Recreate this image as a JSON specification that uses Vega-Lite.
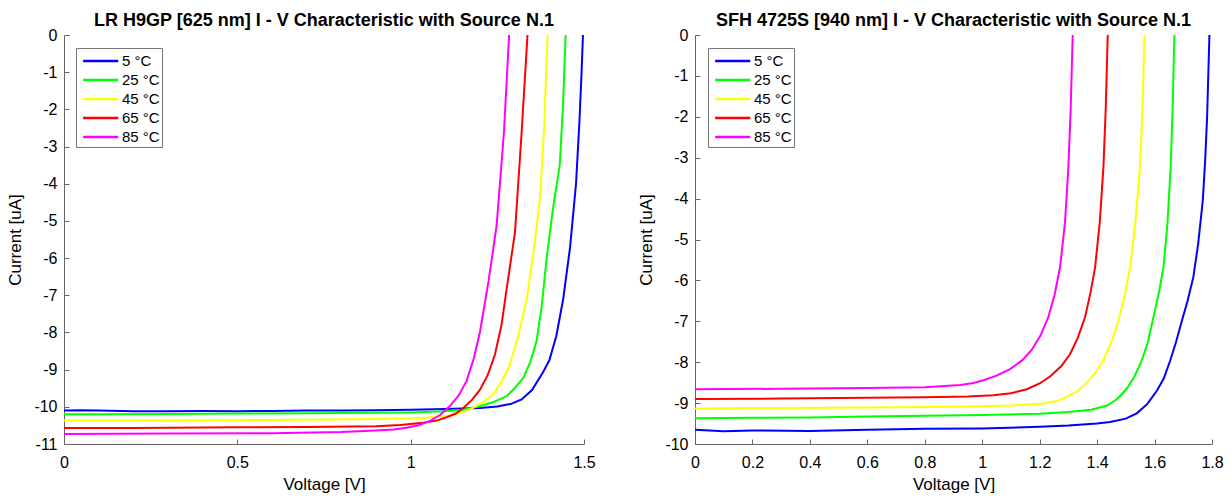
{
  "$schema": "https://vega.github.io/schema/vega-lite/v6.json",
  "padding": {"left": 6, "top": 12, "right": 5, "bottom": 3},
  "background": "white",
  "bounds": "flush",
  "spacing": 111,
  "resolve": {"scale": {"color": "independent"}, "legend": {"color": "independent"}},
  "datasets": {
    "L": [
      {"T": "5 °C", "V": 0, "I": -10.1}, {"T": "5 °C", "V": 0.05, "I": -10.09}, {"T": "5 °C", "V": 0.1, "I": -10.1}, {"T": "5 °C", "V": 0.2, "I": -10.12}, {"T": "5 °C", "V": 0.3, "I": -10.12}, {"T": "5 °C", "V": 0.4, "I": -10.11}, {"T": "5 °C", "V": 0.5, "I": -10.12}, {"T": "5 °C", "V": 0.6, "I": -10.11}, {"T": "5 °C", "V": 0.7, "I": -10.1}, {"T": "5 °C", "V": 0.8, "I": -10.1}, {"T": "5 °C", "V": 0.9, "I": -10.09}, {"T": "5 °C", "V": 1.0, "I": -10.08}, {"T": "5 °C", "V": 1.1, "I": -10.06}, {"T": "5 °C", "V": 1.2, "I": -10.03}, {"T": "5 °C", "V": 1.25, "I": -9.99}, {"T": "5 °C", "V": 1.29, "I": -9.92}, {"T": "5 °C", "V": 1.32, "I": -9.8}, {"T": "5 °C", "V": 1.35, "I": -9.55}, {"T": "5 °C", "V": 1.38, "I": -9.1}, {"T": "5 °C", "V": 1.4, "I": -8.75}, {"T": "5 °C", "V": 1.42, "I": -8.1}, {"T": "5 °C", "V": 1.44, "I": -7.1}, {"T": "5 °C", "V": 1.46, "I": -5.7}, {"T": "5 °C", "V": 1.477, "I": -4.0}, {"T": "5 °C", "V": 1.487, "I": -2.3}, {"T": "5 °C", "V": 1.493, "I": -1.0}, {"T": "5 °C", "V": 1.497, "I": 0},
      {"T": "25 °C", "V": 0, "I": -10.2}, {"T": "25 °C", "V": 0.1, "I": -10.2}, {"T": "25 °C", "V": 0.3, "I": -10.19}, {"T": "25 °C", "V": 0.5, "I": -10.18}, {"T": "25 °C", "V": 0.7, "I": -10.17}, {"T": "25 °C", "V": 0.9, "I": -10.16}, {"T": "25 °C", "V": 1.0, "I": -10.15}, {"T": "25 °C", "V": 1.1, "I": -10.12}, {"T": "25 °C", "V": 1.15, "I": -10.08}, {"T": "25 °C", "V": 1.2, "I": -9.98}, {"T": "25 °C", "V": 1.24, "I": -9.87}, {"T": "25 °C", "V": 1.277, "I": -9.71}, {"T": "25 °C", "V": 1.3, "I": -9.5}, {"T": "25 °C", "V": 1.325, "I": -9.22}, {"T": "25 °C", "V": 1.345, "I": -8.8}, {"T": "25 °C", "V": 1.363, "I": -8.24}, {"T": "25 °C", "V": 1.378, "I": -7.3}, {"T": "25 °C", "V": 1.392, "I": -6.02}, {"T": "25 °C", "V": 1.41, "I": -4.7}, {"T": "25 °C", "V": 1.43, "I": -3.5}, {"T": "25 °C", "V": 1.44, "I": -1.8}, {"T": "25 °C", "V": 1.447, "I": 0},
      {"T": "45 °C", "V": 0, "I": -10.37}, {"T": "45 °C", "V": 0.2, "I": -10.37}, {"T": "45 °C", "V": 0.5, "I": -10.36}, {"T": "45 °C", "V": 0.7, "I": -10.35}, {"T": "45 °C", "V": 0.9, "I": -10.33}, {"T": "45 °C", "V": 1.0, "I": -10.31}, {"T": "45 °C", "V": 1.05, "I": -10.29}, {"T": "45 °C", "V": 1.104, "I": -10.25}, {"T": "45 °C", "V": 1.145, "I": -10.16}, {"T": "45 °C", "V": 1.18, "I": -10.03}, {"T": "45 °C", "V": 1.21, "I": -9.87}, {"T": "45 °C", "V": 1.238, "I": -9.67}, {"T": "45 °C", "V": 1.264, "I": -9.3}, {"T": "45 °C", "V": 1.286, "I": -8.87}, {"T": "45 °C", "V": 1.31, "I": -8.1}, {"T": "45 °C", "V": 1.335, "I": -7.09}, {"T": "45 °C", "V": 1.355, "I": -5.8}, {"T": "45 °C", "V": 1.373, "I": -4.41}, {"T": "45 °C", "V": 1.385, "I": -2.5}, {"T": "45 °C", "V": 1.395, "I": 0},
      {"T": "65 °C", "V": 0, "I": -10.57}, {"T": "65 °C", "V": 0.2, "I": -10.57}, {"T": "65 °C", "V": 0.5, "I": -10.55}, {"T": "65 °C", "V": 0.7, "I": -10.54}, {"T": "65 °C", "V": 0.9, "I": -10.52}, {"T": "65 °C", "V": 0.97, "I": -10.49}, {"T": "65 °C", "V": 1.036, "I": -10.43}, {"T": "65 °C", "V": 1.075, "I": -10.37}, {"T": "65 °C", "V": 1.104, "I": -10.28}, {"T": "65 °C", "V": 1.13, "I": -10.18}, {"T": "65 °C", "V": 1.152, "I": -10.03}, {"T": "65 °C", "V": 1.178, "I": -9.8}, {"T": "65 °C", "V": 1.2, "I": -9.54}, {"T": "65 °C", "V": 1.222, "I": -9.15}, {"T": "65 °C", "V": 1.243, "I": -8.6}, {"T": "65 °C", "V": 1.262, "I": -7.8}, {"T": "65 °C", "V": 1.277, "I": -6.82}, {"T": "65 °C", "V": 1.301, "I": -5.3}, {"T": "65 °C", "V": 1.32, "I": -2.63}, {"T": "65 °C", "V": 1.337, "I": 0},
      {"T": "85 °C", "V": 0, "I": -10.73}, {"T": "85 °C", "V": 0.3, "I": -10.72}, {"T": "85 °C", "V": 0.6, "I": -10.71}, {"T": "85 °C", "V": 0.8, "I": -10.68}, {"T": "85 °C", "V": 0.9, "I": -10.64}, {"T": "85 °C", "V": 0.95, "I": -10.61}, {"T": "85 °C", "V": 0.988, "I": -10.56}, {"T": "85 °C", "V": 1.025, "I": -10.49}, {"T": "85 °C", "V": 1.056, "I": -10.38}, {"T": "85 °C", "V": 1.085, "I": -10.22}, {"T": "85 °C", "V": 1.113, "I": -9.98}, {"T": "85 °C", "V": 1.138, "I": -9.7}, {"T": "85 °C", "V": 1.161, "I": -9.31}, {"T": "85 °C", "V": 1.182, "I": -8.7}, {"T": "85 °C", "V": 1.2, "I": -7.98}, {"T": "85 °C", "V": 1.225, "I": -6.6}, {"T": "85 °C", "V": 1.248, "I": -5.12}, {"T": "85 °C", "V": 1.269, "I": -2.63}, {"T": "85 °C", "V": 1.284, "I": 0}
    ],
    "R": [
      {"T": "5 °C", "V": 0, "I": -9.65}, {"T": "5 °C", "V": 0.1, "I": -9.69}, {"T": "5 °C", "V": 0.2, "I": -9.67}, {"T": "5 °C", "V": 0.4, "I": -9.68}, {"T": "5 °C", "V": 0.6, "I": -9.65}, {"T": "5 °C", "V": 0.8, "I": -9.63}, {"T": "5 °C", "V": 1.0, "I": -9.62}, {"T": "5 °C", "V": 1.2, "I": -9.58}, {"T": "5 °C", "V": 1.3, "I": -9.55}, {"T": "5 °C", "V": 1.4, "I": -9.5}, {"T": "5 °C", "V": 1.445, "I": -9.46}, {"T": "5 °C", "V": 1.5, "I": -9.38}, {"T": "5 °C", "V": 1.538, "I": -9.25}, {"T": "5 °C", "V": 1.575, "I": -9.02}, {"T": "5 °C", "V": 1.608, "I": -8.7}, {"T": "5 °C", "V": 1.632, "I": -8.4}, {"T": "5 °C", "V": 1.654, "I": -7.97}, {"T": "5 °C", "V": 1.675, "I": -7.5}, {"T": "5 °C", "V": 1.695, "I": -6.99}, {"T": "5 °C", "V": 1.715, "I": -6.5}, {"T": "5 °C", "V": 1.735, "I": -5.92}, {"T": "5 °C", "V": 1.752, "I": -5.1}, {"T": "5 °C", "V": 1.768, "I": -4.04}, {"T": "5 °C", "V": 1.776, "I": -3.1}, {"T": "5 °C", "V": 1.783, "I": -2.0}, {"T": "5 °C", "V": 1.791, "I": 0},
      {"T": "25 °C", "V": 0, "I": -9.37}, {"T": "25 °C", "V": 0.2, "I": -9.36}, {"T": "25 °C", "V": 0.4, "I": -9.35}, {"T": "25 °C", "V": 0.6, "I": -9.33}, {"T": "25 °C", "V": 0.8, "I": -9.31}, {"T": "25 °C", "V": 1.0, "I": -9.29}, {"T": "25 °C", "V": 1.2, "I": -9.26}, {"T": "25 °C", "V": 1.3, "I": -9.22}, {"T": "25 °C", "V": 1.38, "I": -9.16}, {"T": "25 °C", "V": 1.434, "I": -9.06}, {"T": "25 °C", "V": 1.47, "I": -8.9}, {"T": "25 °C", "V": 1.503, "I": -8.65}, {"T": "25 °C", "V": 1.53, "I": -8.35}, {"T": "25 °C", "V": 1.555, "I": -7.97}, {"T": "25 °C", "V": 1.577, "I": -7.5}, {"T": "25 °C", "V": 1.596, "I": -6.9}, {"T": "25 °C", "V": 1.615, "I": -6.3}, {"T": "25 °C", "V": 1.631, "I": -5.68}, {"T": "25 °C", "V": 1.645, "I": -4.6}, {"T": "25 °C", "V": 1.656, "I": -3.23}, {"T": "25 °C", "V": 1.663, "I": -1.8}, {"T": "25 °C", "V": 1.669, "I": 0},
      {"T": "45 °C", "V": 0, "I": -9.13}, {"T": "45 °C", "V": 0.3, "I": -9.12}, {"T": "45 °C", "V": 0.6, "I": -9.11}, {"T": "45 °C", "V": 0.9, "I": -9.09}, {"T": "45 °C", "V": 1.0, "I": -9.08}, {"T": "45 °C", "V": 1.1, "I": -9.06}, {"T": "45 °C", "V": 1.213, "I": -9.01}, {"T": "45 °C", "V": 1.26, "I": -8.95}, {"T": "45 °C", "V": 1.294, "I": -8.85}, {"T": "45 °C", "V": 1.33, "I": -8.72}, {"T": "45 °C", "V": 1.364, "I": -8.5}, {"T": "45 °C", "V": 1.395, "I": -8.25}, {"T": "45 °C", "V": 1.422, "I": -7.95}, {"T": "45 °C", "V": 1.45, "I": -7.5}, {"T": "45 °C", "V": 1.474, "I": -6.99}, {"T": "45 °C", "V": 1.495, "I": -6.4}, {"T": "45 °C", "V": 1.515, "I": -5.68}, {"T": "45 °C", "V": 1.533, "I": -4.6}, {"T": "45 °C", "V": 1.549, "I": -3.23}, {"T": "45 °C", "V": 1.558, "I": -1.8}, {"T": "45 °C", "V": 1.565, "I": 0},
      {"T": "65 °C", "V": 0, "I": -8.9}, {"T": "65 °C", "V": 0.3, "I": -8.89}, {"T": "65 °C", "V": 0.6, "I": -8.87}, {"T": "65 °C", "V": 0.8, "I": -8.86}, {"T": "65 °C", "V": 0.95, "I": -8.84}, {"T": "65 °C", "V": 1.039, "I": -8.81}, {"T": "65 °C", "V": 1.1, "I": -8.76}, {"T": "65 °C", "V": 1.155, "I": -8.66}, {"T": "65 °C", "V": 1.2, "I": -8.52}, {"T": "65 °C", "V": 1.236, "I": -8.35}, {"T": "65 °C", "V": 1.275, "I": -8.1}, {"T": "65 °C", "V": 1.306, "I": -7.8}, {"T": "65 °C", "V": 1.333, "I": -7.4}, {"T": "65 °C", "V": 1.358, "I": -6.9}, {"T": "65 °C", "V": 1.377, "I": -6.3}, {"T": "65 °C", "V": 1.393, "I": -5.68}, {"T": "65 °C", "V": 1.409, "I": -4.6}, {"T": "65 °C", "V": 1.422, "I": -3.23}, {"T": "65 °C", "V": 1.43, "I": -1.8}, {"T": "65 °C", "V": 1.437, "I": 0},
      {"T": "85 °C", "V": 0, "I": -8.66}, {"T": "85 °C", "V": 0.3, "I": -8.65}, {"T": "85 °C", "V": 0.6, "I": -8.63}, {"T": "85 °C", "V": 0.8, "I": -8.61}, {"T": "85 °C", "V": 0.923, "I": -8.56}, {"T": "85 °C", "V": 0.97, "I": -8.51}, {"T": "85 °C", "V": 1.004, "I": -8.44}, {"T": "85 °C", "V": 1.05, "I": -8.33}, {"T": "85 °C", "V": 1.097, "I": -8.17}, {"T": "85 °C", "V": 1.14, "I": -7.95}, {"T": "85 °C", "V": 1.172, "I": -7.7}, {"T": "85 °C", "V": 1.203, "I": -7.35}, {"T": "85 °C", "V": 1.23, "I": -6.9}, {"T": "85 °C", "V": 1.252, "I": -6.35}, {"T": "85 °C", "V": 1.271, "I": -5.68}, {"T": "85 °C", "V": 1.288, "I": -4.6}, {"T": "85 °C", "V": 1.3, "I": -3.23}, {"T": "85 °C", "V": 1.308, "I": -1.8}, {"T": "85 °C", "V": 1.315, "I": 0}
    ]
  },
  "hconcat": [
    {
      "width": 520,
      "height": 409,
      "title": "LR H9GP [625 nm] I - V Characteristic with Source N.1",
      "data": {"name": "L"},
      "mark": {"type": "line", "strokeWidth": 2},
      "encoding": {
        "x": {"field": "V", "type": "quantitative", "scale": {"domain": [0, 1.5], "nice": false, "zero": false},
              "axis": {"title": "Voltage [V]", "values": [0, 0.5, 1, 1.5], "labelExpr": "'' + datum.value"}},
        "y": {"field": "I", "type": "quantitative", "scale": {"domain": [-11, 0], "nice": false},
              "axis": {"title": "Current [uA]", "values": [-11, -10, -9, -8, -7, -6, -5, -4, -3, -2, -1, 0], "labelExpr": "'' + datum.value"}},
        "color": {"field": "T", "type": "nominal",
                  "scale": {"domain": ["5 °C", "25 °C", "45 °C", "65 °C", "85 °C"], "range": ["#0000ff", "#00ff00", "#ffff00", "#ff0000", "#ff00ff"]},
                  "legend": {"title": null, "orient": "none", "legendX": 12, "legendY": 13, "symbolType": "M-0.6,0L3,0", "symbolSize": 380, "labelOffset": 22, "symbolStrokeWidth": 2.5}}
      }
    },
    {
      "width": 517,
      "height": 409,
      "title": "SFH 4725S [940 nm] I - V Characteristic with Source N.1",
      "data": {"name": "R"},
      "mark": {"type": "line", "strokeWidth": 2},
      "encoding": {
        "x": {"field": "V", "type": "quantitative", "scale": {"domain": [0, 1.8], "nice": false, "zero": false},
              "axis": {"title": "Voltage [V]", "values": [0, 0.2, 0.4, 0.6, 0.8, 1, 1.2, 1.4, 1.6, 1.8], "labelExpr": "'' + datum.value"}},
        "y": {"field": "I", "type": "quantitative", "scale": {"domain": [-10, 0], "nice": false},
              "axis": {"title": "Current [uA]", "values": [-10, -9, -8, -7, -6, -5, -4, -3, -2, -1, 0], "labelExpr": "'' + datum.value"}},
        "color": {"field": "T", "type": "nominal",
                  "scale": {"domain": ["5 °C", "25 °C", "45 °C", "65 °C", "85 °C"], "range": ["#0000ff", "#00ff00", "#ffff00", "#ff0000", "#ff00ff"]},
                  "legend": {"title": null, "orient": "none", "legendX": 13, "legendY": 13, "symbolType": "M-0.6,0L3,0", "symbolSize": 380, "labelOffset": 22, "symbolStrokeWidth": 2.5}}
      }
    }
  ],
  "config": {
    "font": "Liberation Sans",
    "view": {"stroke": null},
    "axis": {"grid": false, "domainColor": "#666", "tickColor": "#666", "tickSize": -5, "labelFontSize": 16, "titleFontSize": 17,
             "titleFontWeight": "normal", "labelColor": "#000", "titleColor": "#000", "labelFlush": false, "labelOverlap": false},
    "axisX": {"labelPadding": 15, "titlePadding": 6},
    "axisY": {"labelPadding": 12, "titlePadding": 9},
    "title": {"fontSize": 18, "fontWeight": "bold", "offset": -3, "color": "#000", "anchor": "middle"},
    "legend": {"strokeColor": "#777", "fillColor": "white", "padding": 2, "labelFontSize": 15, "labelColor": "#000", "rowPadding": 0, "cornerRadius": 0}
  }
}
